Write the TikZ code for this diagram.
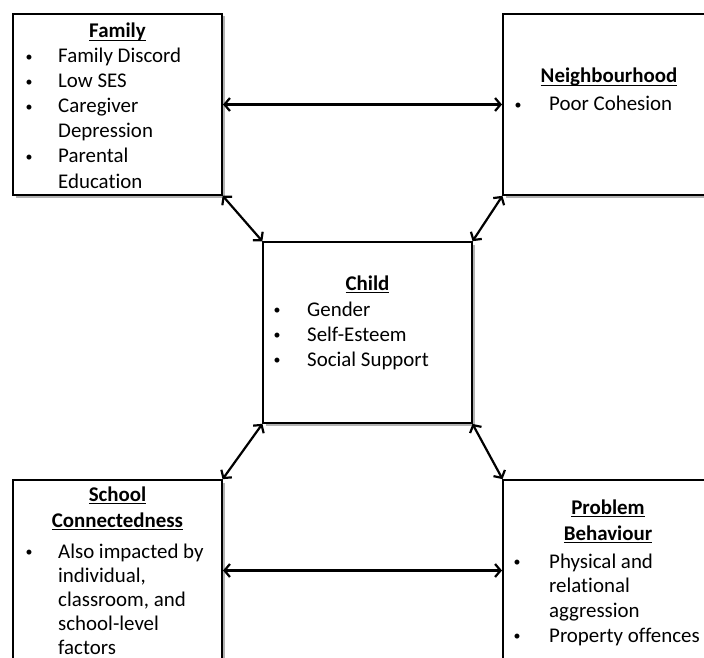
\documentclass[tikz,border=0pt]{standalone}
\usepackage{fontspec}
\setmainfont{Carlito}[Ligatures={NoCommon,NoContextual}]
\usetikzlibrary{arrows.meta,shadows}
\newcommand\myul[1]{\setbox0\hbox{#1}\leavevmode\rlap{\rule[-3.4pt]{\wd0}{1.2pt}}\box0}
\newcommand\mybul{\raisebox{1.6pt}{\fontsize{14pt}{14pt}\selectfont\textbullet}}
\begin{document}
\begin{tikzpicture}[x=1pt,y=-1pt,
  box/.style={draw, line width=2.8pt, fill=white, minimum width=209pt, minimum height=181pt,
    anchor=north west, outer sep=0pt, inner sep=0pt,
    drop shadow={shadow xshift=2.5pt, shadow yshift=-2.5pt, opacity=0.3, fill=black}},
  txt/.style={font=\fontsize{20.9pt}{25pt}\selectfont, inner sep=0pt, anchor=base west},
  ttl/.style={font=\fontsize{20.9pt}{25pt}\selectfont\bfseries, inner sep=0pt, anchor=base},
  bul/.style={font=\fontsize{20.9pt}{25pt}\selectfont, inner sep=0pt, anchor=base},
  con/.style={line width=2.2pt, {Straight Barb[length=5.5pt,width=13pt]}-{Straight Barb[length=5.5pt,width=13pt]}, shorten <=1pt, shorten >=1pt}]
\useasboundingbox (0,0) rectangle (704,658);
% boxes
\node[box] (fam) at (13,14) {};
\node[box] (nb) at (503,14) {};
\node[box] (child) at (263,242) {};
\node[box] (sch) at (13,480) {};
\node[box] (prob) at (503,480) {};
% connectors
\draw[con] (fam.east) -- (nb.west);
\draw[con] (fam.south east) -- (child.north west);
\draw[con] (nb.south west) -- (child.north east);
\draw[con] (child.south west) -- (sch.north east);
\draw[con] (child.south east) -- (prob.north west);
\draw[con] (sch.east) -- (prob.west);
% Family text
\node[ttl] (famT) at (117.5,38) {\myul{Family}};
\node[bul] (fb1) at (29,63) {\mybul};
\node[txt] (ft1) at (58,63) {Family Discord};
\node[bul] (fb2) at (29,88) {\mybul};
\node[txt] (ft2) at (58,88) {Low SES};
\node[bul] (fb3) at (29,113) {\mybul};
\node[txt] (ft3) at (58,113) {Caregiver};
\node[txt] (ft4) at (58,138) {Depression};
\node[bul] (fb5) at (29,163) {\mybul};
\node[txt] (ft5) at (58,163) {Parental};
\node[txt] (ft6) at (58,188) {Education};
% Neighbourhood text
\node[ttl] (nbT) at (609,83) {\myul{Neighbourhood}};
\node[bul] (nb1) at (518,111) {\mybul};
\node[txt] (nt1) at (549,111) {Poor Cohesion};
% Child text
\node[ttl] (chT) at (367.5,290) {\myul{Child}};
\node[bul] (cb1) at (277,316) {\mybul};
\node[txt] (ct1) at (307,316) {Gender};
\node[bul] (cb2) at (277,341) {\mybul};
\node[txt] (ct2) at (307,341) {Self-Esteem};
\node[bul] (cb3) at (277,366) {\mybul};
\node[txt] (ct3) at (307,366) {Social Support};
% School text
\node[ttl] (scT1) at (117.5,501) {\myul{School}};
\node[ttl] (scT2) at (117.5,527) {\myul{Connectedness}};
\node[bul] (sb1) at (29,558) {\mybul};
\node[txt] (st1) at (58,558) {Also impacted by};
\node[txt] (st2) at (58,582) {individual,};
\node[txt] (st3) at (58,606) {classroom, and};
\node[txt] (st4) at (58,630) {school-level};
\node[txt] (st5) at (58,654) {factors};
% Problem text
\node[ttl] (pbT1) at (608,514) {\myul{Problem}};
\node[ttl] (pbT2) at (608,540) {\myul{Behaviour}};
\node[bul] (pb1) at (517,568) {\mybul};
\node[txt] (pt1) at (549,568) {Physical and};
\node[txt] (pt2) at (549,592) {relational};
\node[txt] (pt3) at (549,617) {aggression};
\node[bul] (pb2) at (517,642) {\mybul};
\node[txt] (pt4) at (549,642) {Property offences};
\end{tikzpicture}
\end{document}
